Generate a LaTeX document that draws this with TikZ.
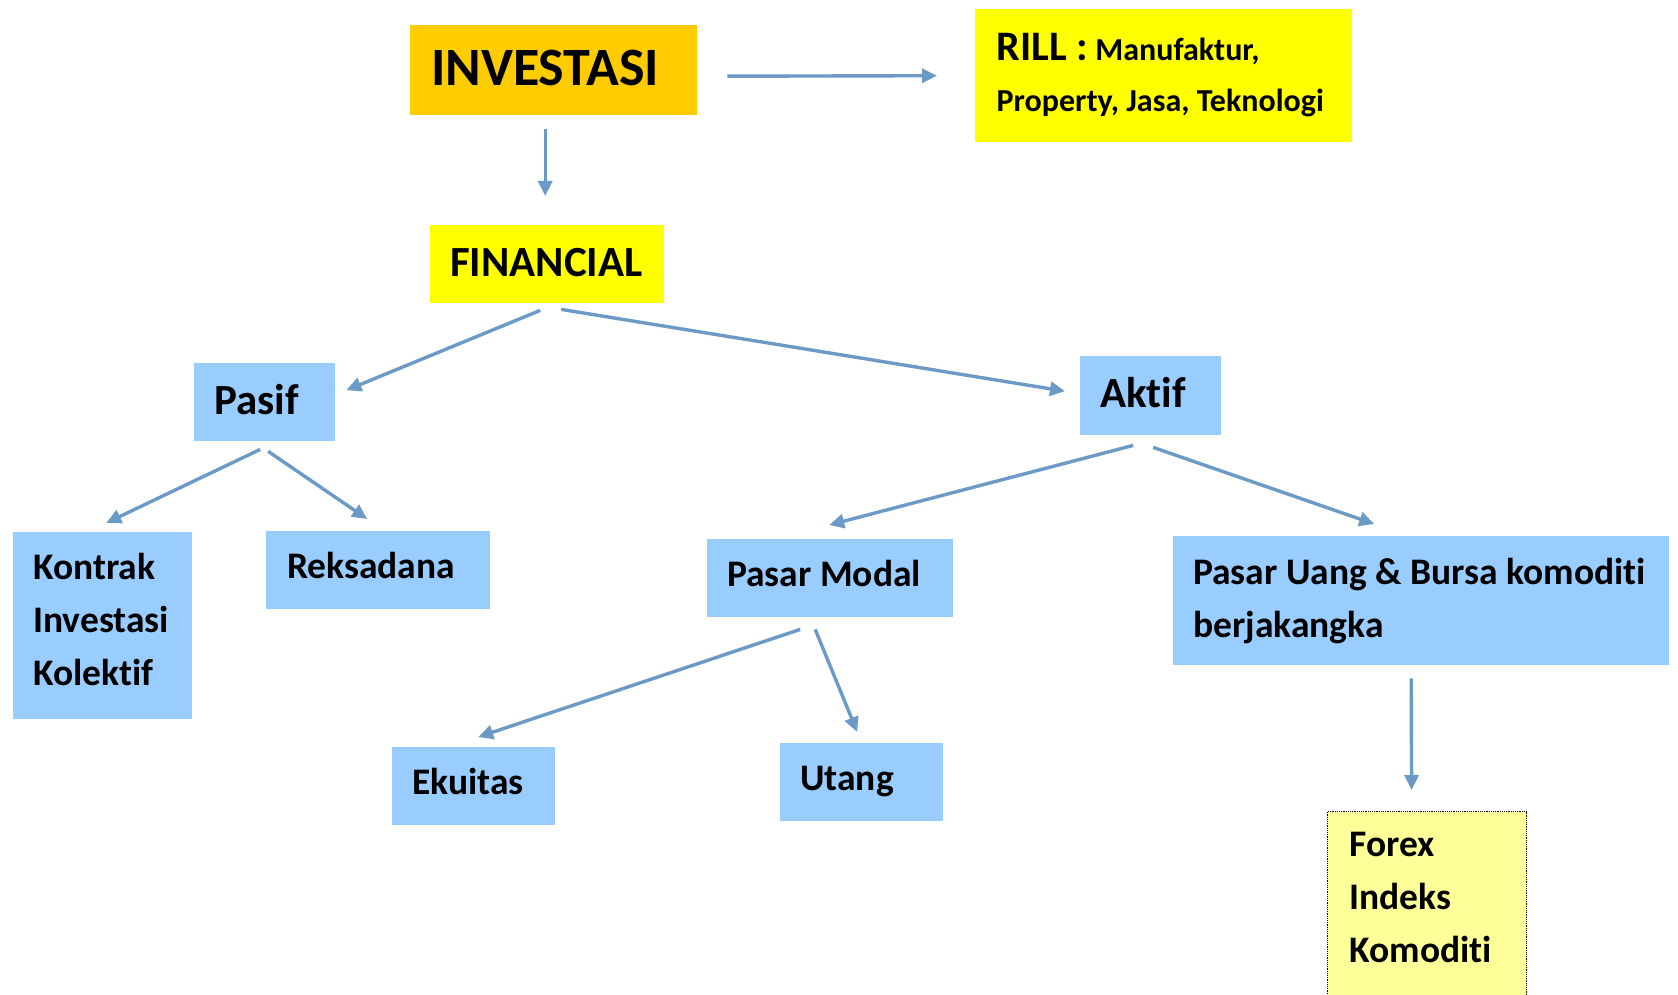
\documentclass[tikz,border=0pt]{standalone}
\usepackage{fontspec}
\setmainfont{Carlito}[Ligatures=NoCommon]
\usetikzlibrary{arrows.meta}
\definecolor{arrowblue}{RGB}{108,154,199}
\definecolor{boxorange}{RGB}{255,204,0}
\definecolor{boxyellow}{RGB}{255,255,0}
\definecolor{boxblue}{RGB}{153,204,255}
\definecolor{boxpale}{RGB}{255,255,153}
\tikzset{
  box/.style={anchor=north west, inner ysep=0pt, align=left, font=\bfseries,
    execute at begin node={\spaceskip=0pt\xspaceskip=0pt\hyphenpenalty=10000\relax}},
  fs37/.style={font=\fontsize{37.5}{53}\selectfont\bfseries},
  fs42/.style={font=\fontsize{43}{53}\selectfont\bfseries},
  one37/.style={text height=26pt, text depth=10pt},
  one42/.style={text height=30pt, text depth=6pt},
  arr/.style={draw=arrowblue, line width=3.4pt, -{Triangle[length=15pt,width=14pt]}},
}
\begin{document}
\begin{tikzpicture}[x=1pt,y=-1pt]
\useasboundingbox (0,0) rectangle (1678,995);
% nodes
\node[box, fill=boxorange, minimum width=287, minimum height=90, inner xsep=21, text width=245,
      text height=37pt, text depth=7pt,
      font=\fontsize{54}{60}\selectfont\bfseries] (inv) at (410,25) {INVESTASI};
\node[box, fill=boxyellow, minimum width=377, minimum height=133, inner xsep=21.5, text width=334,
      font=\fontsize{32}{51}\selectfont\bfseries] (rill) at (975,9)
      {{\fontsize{42}{51}\selectfont RILL :} Manufaktur,\\Property, Jasa, Teknologi\\[-44.5pt]\mbox{}};
\node[box, fs42, one42, fill=boxyellow, minimum width=234, minimum height=78, inner xsep=20, text width=194] (fin) at (430,225) {FINANCIAL};
\node[box, fs42, one42, fill=boxblue, minimum width=141, minimum height=78, inner xsep=20, text width=101] (pasif) at (194,363) {Pasif};
\node[box, fs42, one42, fill=boxblue, minimum width=141, minimum height=79, inner xsep=20, text width=101] (aktif) at (1080,356) {Aktif};
\node[box, fs37, fill=boxblue, minimum width=179, minimum height=187, inner xsep=20, text width=139] (kon) at (13,532) {Kontrak\\Investasi\\Kolektif\\[-40pt]\mbox{}};
\node[box, fs37, one37, fill=boxblue, minimum width=224, minimum height=78, inner xsep=21, text width=182] (rek) at (266,531) {Reksadana};
\node[box, fs37, one37, fill=boxblue, minimum width=246, minimum height=78, inner xsep=20, text width=206] (pm) at (707,539) {Pasar Modal};
\node[box, fs37, fill=boxblue, minimum width=496, minimum height=129, inner xsep=20, text width=456] (pu) at (1173,536) {Pasar Uang \& Bursa komoditi\\berjakangka\\[-48pt]\mbox{}};
\node[box, fs37, one37, fill=boxblue, minimum width=163, minimum height=78, inner xsep=20, text width=123] (eku) at (392,747) {Ekuitas};
\node[box, fs37, one37, fill=boxblue, minimum width=163, minimum height=78, inner xsep=20, text width=123] (utang) at (780,743) {Utang};
\node[box, fs37, fill=boxpale, draw=black, densely dotted, line width=1.2pt, minimum width=199, minimum height=224, inner xsep=22, text width=155] (forex) at (1327,811) {Forex\\Indeks\\Komoditi\\\mbox{}};
% connectors
\draw[arr] ([shift={(30,6)}]inv.east) -- ([shift={(-38,0)}]rill.west);
\draw[arr] ([shift={(-8.5,14)}]inv.south) -- ([shift={(-2,-29)}]fin.north);
\draw[arr] ([shift={(-7,7)}]fin.south) -- ([shift={(11,-12)}]pasif.east);
\draw[arr] ([shift={(14,6)}]fin.south) -- ([shift={(-15,-4.5)}]aktif.west);
\draw[arr] ([shift={(-4.5,8)}]pasif.south) -- ([shift={(3.5,-9)}]kon.north);
\draw[arr] ([shift={(3.5,10)}]pasif.south) -- ([shift={(-11,-12)}]rek.north);
\draw[arr] ([shift={(-17.5,10)}]aktif.south) -- ([shift={(-1,-14)}]pm.north);
\draw[arr] ([shift={(2.5,12)}]aktif.south) -- ([shift={(-47,-12)}]pu.north);
\draw[arr] ([shift={(-30,12)}]pm.south) -- ([shift={(4.5,-10)}]eku.north);
\draw[arr] ([shift={(-15,12)}]pm.south) -- ([shift={(-4.5,-11)}]utang.north);
\draw[arr] ([shift={(-10,13)}]pu.south) -- ([shift={(-15.5,-21)}]forex.north);
\end{tikzpicture}
\end{document}
